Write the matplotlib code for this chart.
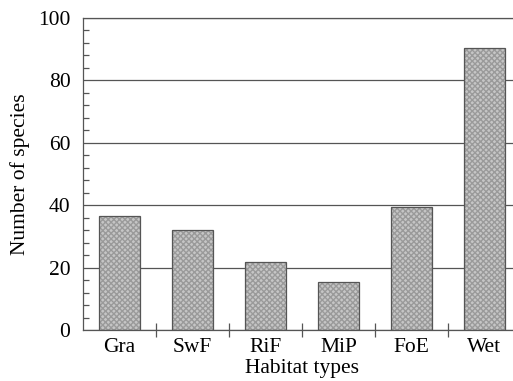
import numpy as np
import matplotlib
matplotlib.use('Agg')
from matplotlib import pyplot as plt
from matplotlib.ticker import MultipleLocator, FixedLocator

habitats = ['Gra', 'SwF', 'RiF', 'MiP', 'FoE', 'Wet']
species = [36.4, 31.9, 21.8, 15.5, 39.4, 90.3]

plt.rcParams['font.family'] = ['Liberation Serif', 'DejaVu Serif']
fs = 15.5

fig = plt.figure(figsize=(5.13, 3.81), dpi=100)
# right edge of the plot runs past the picture, as in the original
ax = fig.add_axes([83 / 513, 51 / 381, 438 / 513, 312 / 381])

x = np.arange(len(habitats))
ax.bar(x, species, width=0.55, color='#c6c6c6', edgecolor='#9a9a9a',
       hatch='xxxxxx', linewidth=0, zorder=2)
ax.bar(x, species, width=0.55, fill=False, edgecolor='#555555',
       linewidth=0.9, zorder=3)

ax.set_xlim(-0.5, len(habitats) - 0.5)
ax.set_ylim(0, 100)
ax.yaxis.set_major_locator(MultipleLocator(20))
ax.yaxis.set_minor_locator(MultipleLocator(4))
ax.grid(axis='y', color='#555555', linewidth=0.9, zorder=1)

ax.set_xticks(x)
ax.set_xticklabels(habitats)
ax.xaxis.set_minor_locator(FixedLocator(x[:-1] + 0.5))
ax.tick_params(axis='x', which='major', length=0, pad=6, labelsize=fs)
ax.tick_params(axis='x', which='minor', direction='inout', length=10,
               color='#555555', width=0.9)
ax.tick_params(axis='y', which='major', length=0, pad=9, labelsize=fs)
ax.tick_params(axis='y', which='minor', direction='in', length=4,
               color='#555555', width=0.9)

for s in ax.spines.values():
    s.set_color('#555555')
    s.set_linewidth(0.9)

ax.set_xlabel('Habitat types', fontsize=fs, labelpad=1)
ax.set_ylabel('Number of species', fontsize=fs, labelpad=6)

fig.savefig('out.png', dpi=100)
